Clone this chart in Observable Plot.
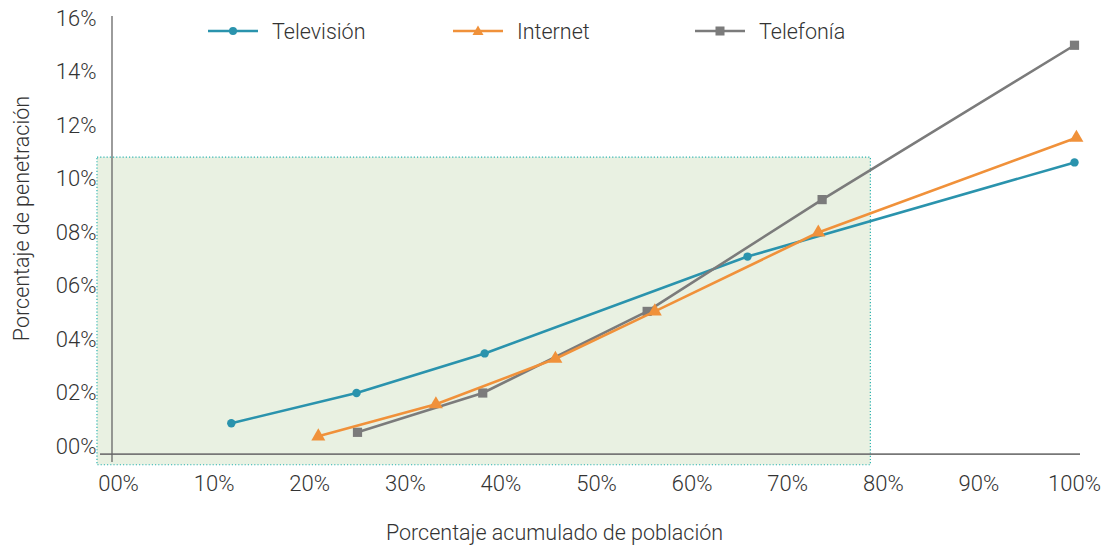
<!DOCTYPE html>
<html>
<head>
<meta charset="utf-8">
<script src="https://cdn.jsdelivr.net/npm/d3@7"></script>
<script src="https://cdn.jsdelivr.net/npm/@observablehq/plot@0.6"></script>
<style>
  html, body { margin: 0; padding: 0; background: #fff; }
  #wrap { position: relative; width: 1101px; height: 548px; font-family: Roboto, "DejaVu Sans", sans-serif; }
  #legend { position: absolute; top: 18px; left: 0; width: 1101px; height: 26px; font-size: 21.5px; font-weight: 300; color: #333; }
  .item { position: absolute; display: flex; align-items: center; height: 26px; }
  .item svg { margin-right: 14px; }
</style>
</head>
<body>
<div id="wrap"><div id="legend"></div></div>
<script>
// ---- data ----
const seriesNames = ["Televisión", "Internet", "Telefonía"];
const tvX = [11.8, 24.9, 38.3, 65.8, 100];
const tvY = [0.87, 2.0, 3.48, 7.1, 10.62];
const internetX = [20.9, 33.2, 45.7, 56.1, 73.2, 100.2];
const internetY = [0.38, 1.58, 3.28, 5.05, 8.0, 11.54];
const telefoniaX = [25.0, 38.1, 55.3, 73.6, 100];
const telefoniaY = [0.53, 2.0, 5.05, 9.23, 15.0];
const xTicks = [0, 10, 20, 30, 40, 50, 60, 70, 80, 90, 100];
const yTicks = [0, 2, 4, 6, 8, 10, 12, 14, 16];
const shadedX = [-2.2, 78.7];
const shadedY = [-0.7, 10.8];

const colors = {"Televisión": "#2a93ad", "Internet": "#f0913a", "Telefonía": "#7b7b7b"};
const symbols = {"Televisión": "circle", "Internet": "triangle", "Telefonía": "square"};
const radius = {"Televisión": 4.2, "Internet": 5.2, "Telefonía": 5.2};

const toRows = (name, xs, ys) => xs.map((x, i) => ({series: name, x, y: ys[i]}));
const tv = toRows("Televisión", tvX, tvY);
const internet = toRows("Internet", internetX, internetY);
const telefonia = toRows("Telefonía", telefoniaX, telefoniaY);
const groups = [tv, telefonia, internet];

const pct = d => String(d).padStart(2, "0") + "%";
const textColor = "#333";

const marks = [
  Plot.rect([{x1: shadedX[0], x2: shadedX[1], y1: shadedY[0], y2: shadedY[1]}], {
    x1: "x1", x2: "x2", y1: "y1", y2: "y2",
    fill: "#e9f1e2", stroke: "#2bb3b1", strokeWidth: 1.2, strokeDasharray: "1.2,2"
  }),
  Plot.ruleY([0], {dy: 7.7, insetLeft: -18, insetRight: -6, stroke: "#777", strokeWidth: 1.8}),
  Plot.ruleX([0], {dx: -6.5, insetTop: -2, insetBottom: -16, stroke: "#666", strokeWidth: 1.3}),
  Plot.axisX(xTicks, {tickSize: 0, tickPadding: 29, tickFormat: pct, fontSize: 22, fontWeight: 300, fill: textColor, label: null}),
  Plot.axisY(yTicks, {tickSize: 0, tickPadding: 22, tickFormat: pct, fontSize: 22, fontWeight: 300, fill: textColor, label: null}),
];
for (const g of groups) {
  const name = g[0].series;
  marks.push(Plot.line(g, {x: "x", y: "y", stroke: colors[name], strokeWidth: 2.6}));
  marks.push(Plot.dot(g, {x: "x", y: "y", symbol: symbols[name], r: radius[name], fill: colors[name], stroke: "none"}));
}
marks.push(Plot.text(["Porcentaje de penetración"], {frameAnchor: "left", textAnchor: "middle", lineAnchor: "middle", dx: -96, dy: -14, rotate: -90, fontSize: 21.5, fontWeight: 300, fill: textColor}));
marks.push(Plot.text(["Porcentaje acumulado de población"], {frameAnchor: "bottom", textAnchor: "middle", lineAnchor: "middle", dx: -42, dy: 87, fontSize: 21.5, fontWeight: 300, fill: textColor}));

const chart = Plot.plot({
  width: 1101,
  height: 548,
  marginLeft: 118,
  marginRight: 27,
  marginTop: 18,
  marginBottom: 102,
  style: {fontFamily: "Roboto, 'DejaVu Sans', sans-serif", background: "transparent", overflow: "visible"},
  x: {domain: [0, 100]},
  y: {domain: [0, 16]},
  marks
});
document.getElementById("wrap").prepend(chart);

// legend
const legend = document.getElementById("legend");
const legendLeft = {"Televisión": 208, "Internet": 453, "Telefonía": 695};
for (const name of seriesNames) {
  const item = document.createElement("div");
  item.className = "item";
  item.style.left = legendLeft[name] + "px";
  const c = colors[name];
  let sym;
  if (symbols[name] === "circle") sym = `<circle cx="25" cy="13" r="4" fill="${c}"/>`;
  else if (symbols[name] === "triangle") sym = `<path d="M25,7.5 L30.5,17 L19.5,17 Z" fill="${c}"/>`;
  else sym = `<rect x="20.5" y="8.5" width="9" height="9" fill="${c}"/>`;
  item.innerHTML = `<svg width="50" height="26"><line x1="0" x2="50" y1="13" y2="13" stroke="${c}" stroke-width="2.6"/>${sym}</svg><span>${name}</span>`;
  legend.appendChild(item);
}
</script>
</body>
</html>
